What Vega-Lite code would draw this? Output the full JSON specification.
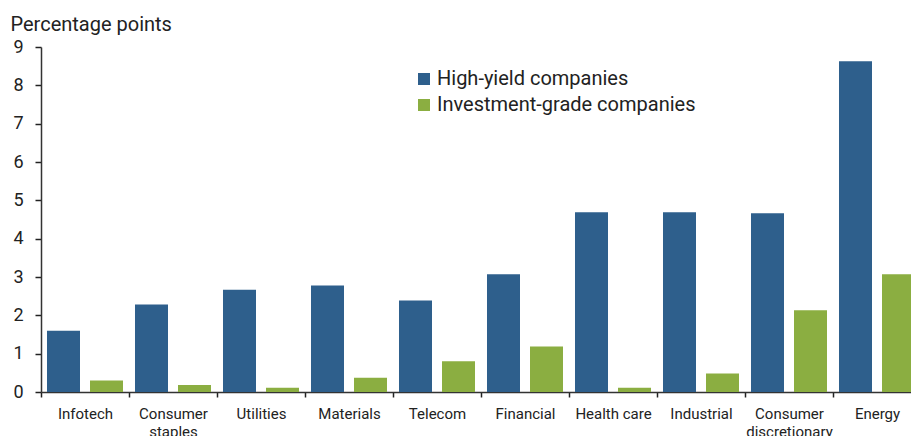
{
  "$schema": "https://vega.github.io/schema/vega-lite/v6.json",
  "autosize": {"type": "none"},
  "width": 870,
  "height": 345,
  "padding": {"left": 41, "top": 47, "right": 0, "bottom": 44},
  "background": "white",
  "config": {
    "font": "Roboto",
    "view": {"stroke": null}
  },
  "data": {
    "values": [
      {"sector": "Infotech", "group": "High-yield companies", "value": 1.6},
      {"sector": "Infotech", "group": "Investment-grade companies", "value": 0.3},
      {"sector": "Consumer staples", "group": "High-yield companies", "value": 2.28},
      {"sector": "Consumer staples", "group": "Investment-grade companies", "value": 0.18},
      {"sector": "Utilities", "group": "High-yield companies", "value": 2.67},
      {"sector": "Utilities", "group": "Investment-grade companies", "value": 0.11},
      {"sector": "Materials", "group": "High-yield companies", "value": 2.78},
      {"sector": "Materials", "group": "Investment-grade companies", "value": 0.37},
      {"sector": "Telecom", "group": "High-yield companies", "value": 2.39},
      {"sector": "Telecom", "group": "Investment-grade companies", "value": 0.8},
      {"sector": "Financial", "group": "High-yield companies", "value": 3.07},
      {"sector": "Financial", "group": "Investment-grade companies", "value": 1.19},
      {"sector": "Health care", "group": "High-yield companies", "value": 4.69},
      {"sector": "Health care", "group": "Investment-grade companies", "value": 0.11},
      {"sector": "Industrial", "group": "High-yield companies", "value": 4.69},
      {"sector": "Industrial", "group": "Investment-grade companies", "value": 0.48},
      {"sector": "Consumer discretionary", "group": "High-yield companies", "value": 4.66},
      {"sector": "Consumer discretionary", "group": "Investment-grade companies", "value": 2.13},
      {"sector": "Energy", "group": "High-yield companies", "value": 8.63},
      {"sector": "Energy", "group": "Investment-grade companies", "value": 3.07}
    ]
  },
  "mark": {"type": "bar"},
  "encoding": {
    "x": {
      "field": "sector",
      "type": "nominal",
      "sort": null,
      "scale": {"range": [0, 880], "paddingInner": 0, "paddingOuter": 0},
      "axis": {
        "title": null,
        "labelAngle": 0,
        "labelFontSize": 15,
        "labelColor": "#222222",
        "labelLineHeight": 18,
        "labelPadding": 9.5,
        "tickBand": "extent",
        "tickSize": 5,
        "tickColor": "#222222",
        "tickWidth": 1.5,
        "domainColor": "#333333",
        "domainWidth": 1.5,
        "labelExpr": "datum.label == 'Consumer staples' ? ['Consumer', 'staples'] : datum.label == 'Consumer discretionary' ? ['Consumer', 'discretionary'] : datum.label"
      }
    },
    "xOffset": {
      "field": "group",
      "type": "nominal",
      "sort": ["High-yield companies", "Investment-grade companies"],
      "scale": {"paddingInner": 0.2326, "paddingOuter": 0.1395}
    },
    "y": {
      "field": "value",
      "type": "quantitative",
      "scale": {"domain": [0, 9], "nice": false},
      "axis": {
        "title": "Percentage points",
        "titleAngle": 0,
        "titleAlign": "left",
        "titleBaseline": "alphabetic",
        "titleX": -31,
        "titleY": -17,
        "titleFontSize": 20,
        "titleFontWeight": "normal",
        "titleColor": "#222222",
        "values": [0, 1, 2, 3, 4, 5, 6, 7, 8, 9],
        "grid": false,
        "labelFontSize": 18,
        "labelColor": "#222222",
        "labelPadding": 12,
        "tickSize": 6,
        "tickColor": "#222222",
        "tickWidth": 1.5,
        "domainColor": "#333333",
        "domainWidth": 1.5
      }
    },
    "color": {
      "field": "group",
      "type": "nominal",
      "scale": {
        "domain": ["High-yield companies", "Investment-grade companies"],
        "range": ["#2E5F8C", "#8BAE41"]
      },
      "legend": {
        "title": null,
        "orient": "none",
        "legendX": 373,
        "legendY": 22,
        "padding": 0,
        "symbolType": "square",
        "symbolSize": 144,
        "symbolStrokeWidth": 0,
        "labelFontSize": 20,
        "labelColor": "#222222",
        "labelOffset": 3,
        "rowPadding": 6,
        "labelLimit": 400
      }
    }
  }
}
